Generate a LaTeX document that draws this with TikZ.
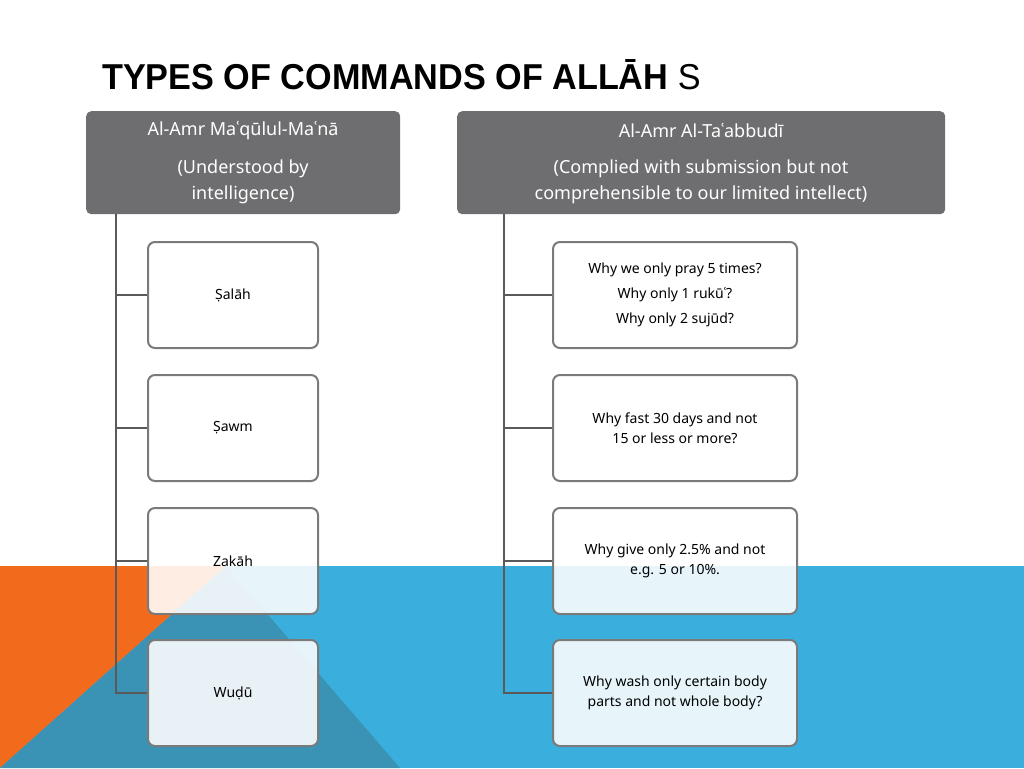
\documentclass[tikz,border=0pt]{standalone}
\usepackage{fontspec}
\setmainfont{Noto Sans}
\newfontfamily\titlefont{Liberation Sans}
\begin{document}
\begin{tikzpicture}[x=1pt,y=-1pt,
  hdr/.style={draw=none,fill=hgray,rounded corners=5pt,text=white,align=center,anchor=north west,inner sep=0pt},
  htxt/.style={font=\fontsize{18}{26}\selectfont,text=white,align=center},
  kid/.style={draw=bgray,line width=2pt,fill=white,fill opacity=0.88,text opacity=1,rounded corners=7pt,align=center,font=\fontsize{14}{20}\selectfont,inner sep=0pt},
  tree/.style={draw=tgray,line width=2.6pt}]
\definecolor{hgray}{HTML}{6E6E70}
\definecolor{bgray}{HTML}{7A7A7A}
\definecolor{tgray}{HTML}{5A5A5A}
\definecolor{lblue}{HTML}{3AAFDD}
\definecolor{dteal}{HTML}{3A93B5}
\definecolor{orng}{HTML}{F26B1D}
\useasboundingbox (0,0) rectangle (1024,768);
\fill[lblue] (0,566) rectangle (1024,768);
\fill[orng] (0,566) -- (226,566) -- (0,768) -- cycle;
\fill[dteal] (226,566) -- (400,768) -- (0,768) -- cycle;
\node[anchor=west,font=\titlefont\bfseries\fontsize{36}{40}\selectfont,xscale=0.95,inner sep=0pt] (title) at (102,75) {TYPES OF COMMANDS OF ALLĀH \textmd{S}};
% headers
\node[hdr,minimum width=314pt,minimum height=103pt] (hl) at (86,111) {};
\node[htxt] (hlt) at (243,131) {Al-Amr Maʿqūlul-Maʿnā};
\node[htxt] (hls) at (243,182) {(Understood by\\intelligence)};
\node[hdr,minimum width=488pt,minimum height=103pt] (hr) at (457,111) {};
\node[htxt] (hrt) at (701,131) {Al-Amr Al-Taʿabbudī};
\node[htxt] (hrs) at (701,182) {(Complied with submission but not\\comprehensible to our limited intellect)};
% trunks
\coordinate (tl) at (116,214);
\coordinate (tr) at (504,214);
\foreach \n/\y/\t in {1/295/Ṣalāh,2/428/Ṣawm,3/561/Zakāh,4/693/Wuḍū}{
  \node[kid,minimum width=170pt,minimum height=106pt] (l\n) at (233,\y) {\t};
}
\node[kid,minimum width=244pt,minimum height=106pt] (r1) at (675,295) {Why we only pray 5 times?\\[5pt]Why only 1 rukūʿ?\\[5pt]Why only 2 sujūd?};
\node[kid,minimum width=244pt,minimum height=106pt] (r2) at (675,428) {Why fast 30 days and not\\15 or less or more?};
\node[kid,minimum width=244pt,minimum height=106pt] (r3) at (675,561) {Why give only 2.5\% and not\\e.g. 5 or 10\%.};
\node[kid,minimum width=244pt,minimum height=106pt] (r4) at (675,693) {Why wash only certain body\\parts and not whole body?};
\draw[tree] (tl) |- (l4.west);
\draw[tree] (tr) |- (r4.west);
\foreach \n in {1,2,3}{
  \draw[tree] (tl |- l\n.west) -- (l\n.west);
  \draw[tree] (tr |- r\n.west) -- (r\n.west);
}
\end{tikzpicture}
\end{document}
